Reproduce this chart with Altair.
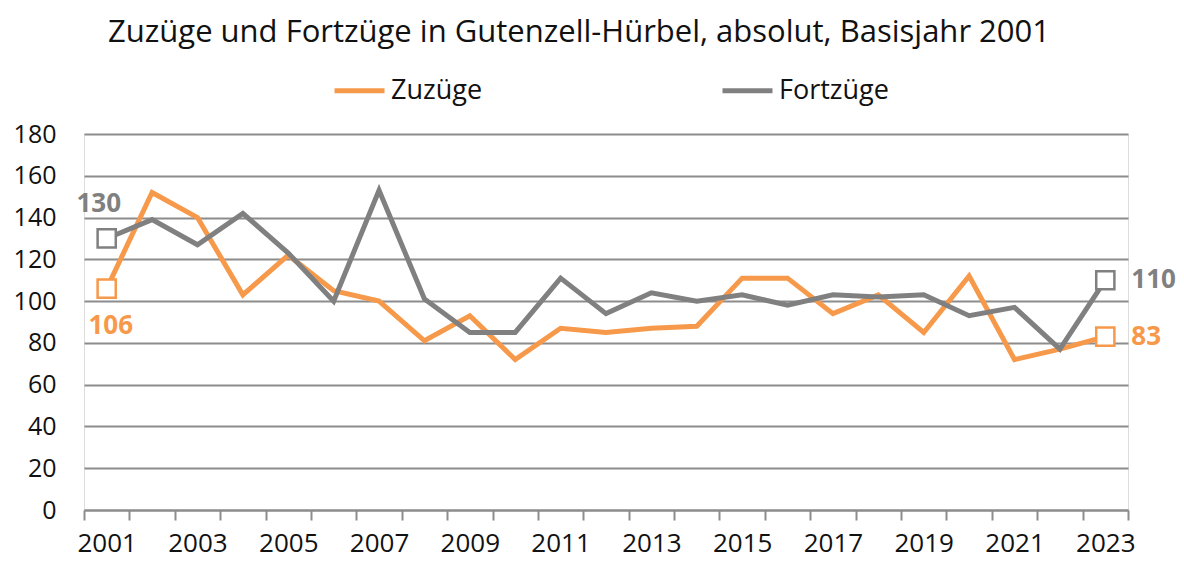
import altair as alt
import pandas as pd

years = list(range(2001, 2024))
zuzuege = [106, 152, 140, 103, 122, 105, 100, 81, 93, 72, 87, 85, 87, 88,
           111, 111, 94, 103, 85, 112, 72, 77, 83]
fortzuege = [130, 139, 127, 142, 123, 100, 153, 101, 85, 85, 111, 94, 104, 100,
             103, 98, 103, 102, 103, 93, 97, 77, 110]
series_names = ["Zuzüge", "Fortzüge"]
colors = ["#F7994A", "#808080"]
y_ticks = list(range(0, 181, 20))
label_years = years[::2]
boundary_ticks = [y - 0.5 for y in years] + [years[-1] + 0.5]

rows = []
for name, vals in zip(series_names, [zuzuege, fortzuege]):
    for yr, v in zip(years, vals):
        rows.append({"Jahr": yr, "Wert": v, "Reihe": name})
df = pd.DataFrame(rows)

FONT = "Open Sans"
x_scale = alt.Scale(domain=[years[0] - 0.5, years[-1] + 0.5], nice=False, zero=False)

x_label_axis = alt.Axis(
    title=None,
    orient="bottom",
    values=label_years,
    format="d",
    labelOverlap=False,
    labelFontSize=26,
    labelFont=FONT,
    labelColor="#111111",
    labelPadding=20,
    ticks=False,
    grid=False,
    domainColor="#8c8c8c",
    domainWidth=2,
)
x_tick_axis = alt.Axis(
    title=None,
    orient="bottom",
    values=boundary_ticks,
    labels=False,
    grid=False,
    domain=False,
    tickColor="#8c8c8c",
    tickWidth=2,
    tickSize=10,
)
y_enc = alt.Y(
    "Wert:Q",
    scale=alt.Scale(domain=[0, 180], nice=False),
    axis=alt.Axis(
        title=None,
        values=y_ticks,
        labelFontSize=25,
        labelFont=FONT,
        labelColor="#111111",
        labelPadding=28,
        ticks=False,
        domain=False,
        gridColor="#8c8c8c",
        gridWidth=2,
    ),
)
color_enc = alt.Color(
    "Reihe:N",
    scale=alt.Scale(domain=series_names, range=colors),
    sort=series_names,
    legend=alt.Legend(
        title=None,
        orient="none",
        legendX=248,
        legendY=-71,
        direction="horizontal",
        symbolType="stroke",
        symbolSize=2500,
        symbolStrokeWidth=5,
        labelFontSize=27,
        labelFont=FONT,
        labelColor="#111111",
        labelOffset=4,
        columnPadding=229,
    ),
)

base = alt.Chart(df)

lines = base.mark_line(strokeWidth=5).encode(
    x=alt.X("Jahr:Q", scale=x_scale, axis=x_label_axis),
    y=y_enc,
    color=color_enc,
    order=alt.Order("Jahr:Q"),
)

ends = base.transform_filter(
    alt.FieldOneOfPredicate(field="Jahr", oneOf=[years[0], years[-1]])
).mark_point(shape="square", size=330, filled=True, fill="white", strokeWidth=2.5, opacity=1).encode(
    x=alt.X("Jahr:Q", scale=x_scale, axis=x_tick_axis),
    y="Wert:Q",
    stroke=alt.Stroke("Reihe:N", scale=alt.Scale(domain=series_names, range=colors), legend=None),
)

def end_label(name, yr, color, **kw):
    return base.transform_filter(
        (alt.datum.Reihe == name) & (alt.datum.Jahr == yr)
    ).mark_text(font=FONT, fontSize=26, fontWeight="bold", color=color, **kw).encode(
        x=alt.X("Jahr:Q", axis=None), y="Wert:Q", text="Wert:Q"
    )

labels = [
    end_label("Fortzüge", years[0], colors[1], dx=-8, dy=-34),
    end_label("Zuzüge", years[0], colors[0], dx=4, dy=37),
    end_label("Fortzüge", years[-1], colors[1], align="left", dx=26, dy=0),
    end_label("Zuzüge", years[-1], colors[0], align="left", dx=26, dy=0),
]

chart = alt.layer(lines, ends, *labels).resolve_axis(x="independent").properties(
    width=1044,
    height=376,
    padding={"top": 9, "left": 5, "right": 0, "bottom": 2},
    title=alt.TitleParams(
        "Zuzüge und Fortzüge in Gutenzell-Hürbel, absolut, Basisjahr 2001",
        anchor="start", frame="group", dx=24, fontSize=31, font=FONT, fontWeight="normal",
        color="#111111", offset=14,
    ),
).configure_view(stroke=None).configure(background="white")

chart.save("out.html", embed_options={"renderer": "svg", "actions": False})
